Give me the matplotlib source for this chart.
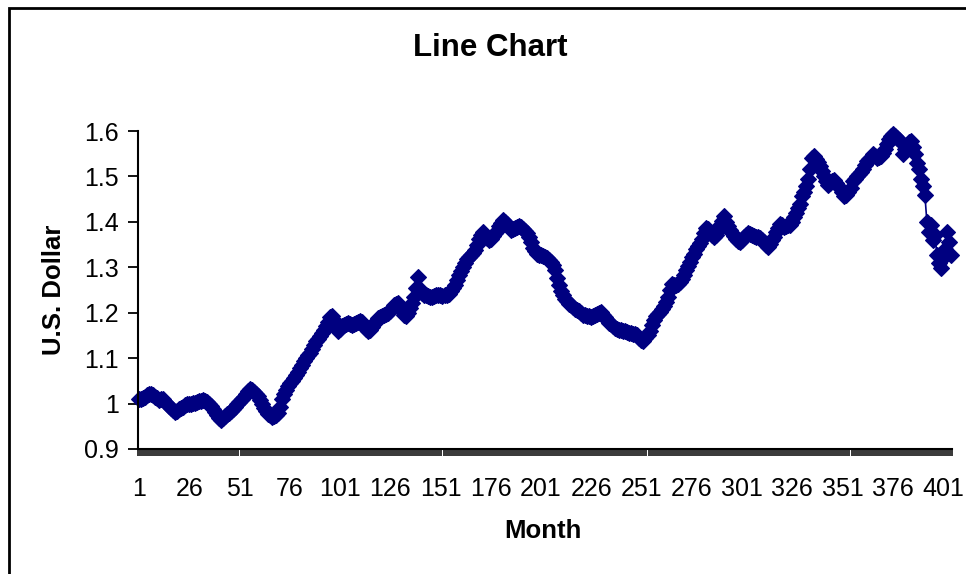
import numpy as np
import matplotlib.pyplot as plt
from matplotlib.patches import Rectangle

plt.rcParams['font.family'] = ['Liberation Sans', 'DejaVu Sans']

# valores mensuales (U.S. Dollar)
valores = [
    1.010, 1.010, 1.012, 1.015, 1.018, 1.020, 1.022, 1.018, 1.015, 1.012, 1.008, 1.010,
    1.009, 1.004, 1.000, 0.995, 0.990, 0.986, 0.982, 0.984, 0.987, 0.990, 0.993, 0.996,
    0.998, 0.999, 1.000, 1.001, 1.002, 1.004, 1.006, 1.005, 1.007, 1.006, 1.003, 1.000,
    0.995, 0.989, 0.982, 0.974, 0.968, 0.964, 0.968, 0.972, 0.976, 0.980, 0.983, 0.988,
    0.993, 0.998, 1.004, 1.009, 1.015, 1.022, 1.028, 1.033, 1.030, 1.026, 1.022, 1.016,
    1.008, 0.999, 0.990, 0.984, 0.978, 0.974, 0.971, 0.972, 0.975, 0.980, 0.992, 1.011,
    1.020, 1.030, 1.038, 1.045, 1.050, 1.056, 1.062, 1.070, 1.078, 1.086, 1.094, 1.100,
    1.106, 1.112, 1.120, 1.130, 1.138, 1.142, 1.148, 1.155, 1.162, 1.170, 1.180, 1.190,
    1.193, 1.185, 1.170, 1.160, 1.165, 1.170, 1.172, 1.176, 1.178, 1.176, 1.173, 1.175,
    1.178, 1.180, 1.182, 1.180, 1.172, 1.165, 1.160, 1.163, 1.168, 1.175, 1.182, 1.188,
    1.190, 1.193, 1.196, 1.197, 1.200, 1.204, 1.210, 1.216, 1.220, 1.222, 1.212, 1.204,
    1.196, 1.193, 1.200, 1.210, 1.222, 1.235, 1.255, 1.278, 1.253, 1.244, 1.240, 1.238,
    1.236, 1.234, 1.235, 1.236, 1.238, 1.240, 1.238, 1.236, 1.238, 1.240, 1.242, 1.248,
    1.255, 1.262, 1.272, 1.282, 1.292, 1.300, 1.310, 1.318, 1.322, 1.326, 1.332, 1.338,
    1.350, 1.362, 1.372, 1.378, 1.372, 1.365, 1.360, 1.362, 1.368, 1.375, 1.380, 1.390,
    1.398, 1.404, 1.400, 1.395, 1.388, 1.382, 1.384, 1.386, 1.388, 1.390, 1.389, 1.385,
    1.380, 1.375, 1.367, 1.355, 1.342, 1.335, 1.330, 1.328, 1.327, 1.325, 1.322, 1.320,
    1.316, 1.311, 1.305, 1.295, 1.276, 1.262, 1.248, 1.238, 1.230, 1.225, 1.220, 1.216,
    1.212, 1.208, 1.206, 1.204, 1.200, 1.196, 1.194, 1.193, 1.192, 1.190, 1.192, 1.195,
    1.198, 1.200, 1.202, 1.196, 1.190, 1.184, 1.178, 1.175, 1.170, 1.167, 1.165, 1.163,
    1.162, 1.160, 1.160, 1.158, 1.156, 1.155, 1.154, 1.153, 1.150, 1.145, 1.140, 1.138,
    1.144, 1.150, 1.160, 1.172, 1.185, 1.193, 1.198, 1.202, 1.208, 1.215, 1.223, 1.235,
    1.250, 1.264, 1.262, 1.260, 1.264, 1.267, 1.275, 1.284, 1.293, 1.302, 1.312, 1.322,
    1.330, 1.340, 1.346, 1.353, 1.362, 1.375, 1.387, 1.384, 1.378, 1.372, 1.367, 1.372,
    1.380, 1.392, 1.402, 1.412, 1.400, 1.390, 1.382, 1.375, 1.368, 1.362, 1.358, 1.356,
    1.360, 1.366, 1.372, 1.376, 1.374, 1.370, 1.368, 1.367, 1.367, 1.364, 1.360, 1.355,
    1.350, 1.345, 1.352, 1.360, 1.367, 1.378, 1.386, 1.395, 1.392, 1.388, 1.390, 1.392,
    1.393, 1.400, 1.410, 1.420, 1.430, 1.440, 1.456, 1.466, 1.478, 1.495, 1.516, 1.540,
    1.545, 1.538, 1.531, 1.522, 1.512, 1.500, 1.490, 1.482, 1.486, 1.490, 1.493, 1.486,
    1.480, 1.475, 1.465, 1.456, 1.460, 1.465, 1.475, 1.490, 1.495, 1.500, 1.505, 1.510,
    1.516, 1.525, 1.534, 1.538, 1.540, 1.549, 1.546, 1.540, 1.542, 1.545, 1.552, 1.560,
    1.572, 1.582, 1.588, 1.593, 1.590, 1.585, 1.580, 1.575, 1.549, 1.560, 1.570, 1.575,
    1.578, 1.565, 1.549, 1.530, 1.516, 1.495, 1.478, 1.460, 1.400, 1.378, 1.393, 1.360,
    1.372, 1.327, 1.310, 1.298, 1.320, 1.340, 1.378, 1.356, 1.327,
]
meses = np.arange(1, len(valores) + 1)
etiquetas_x = list(range(1, 402, 25))
ticks_y = [0.9, 1.0, 1.1, 1.2, 1.3, 1.4, 1.5, 1.6]
etiquetas_y = ['0.9', '1', '1.1', '1.2', '1.3', '1.4', '1.5', '1.6']

fig = plt.figure(figsize=(9.66, 5.74), dpi=100, facecolor='white')
ax = fig.add_axes([138 / 966, 1 - 449 / 574, (952 - 138) / 966, (449 - 131) / 574])

ax.plot(meses, valores, color='#000080', linewidth=1.2, marker='D',
        markersize=7.8, markeredgewidth=0.8, markerfacecolor='#000080',
        markeredgecolor='#000080', clip_on=False)

ax.set_xlim(0.5, len(valores) + 0.5)
ax.set_ylim(0.9, 1.6)

# marcas entre categorias, etiquetas en el centro
ax.set_xticks(etiquetas_x)
ax.set_xticklabels([str(m) for m in etiquetas_x])
ax.set_xticks(np.arange(0.5, len(valores) + 1, 1), minor=True)
ax.tick_params(axis='x', which='major', length=0, pad=20, labelsize=18)
ax.tick_params(axis='x', which='minor', length=5, width=1.1, color='black', direction='out')

ax.set_yticks(ticks_y)
ax.set_yticklabels(etiquetas_y)
ax.tick_params(axis='y', length=7, width=1.3, pad=7, labelsize=18, direction='out')

for lado in ['top', 'right']:
    ax.spines[lado].set_visible(False)
for lado in ['left', 'bottom']:
    ax.spines[lado].set_linewidth(1.5)
    ax.spines[lado].set_color('black')

ax.set_xlabel('Month', fontsize=18.5, fontweight='bold')
ax.xaxis.set_label_coords(0.5 + (543 - 545) / 814, (449 - 519) / 318)
ax.set_ylabel('U.S. Dollar', fontsize=18.5, fontweight='bold', labelpad=13)
fig.text(490 / 966, 1 - 48 / 574, 'Line Chart', fontsize=22.5, fontweight='bold',
         ha='center', va='center')

# borde del area del grafico
borde = Rectangle((9 / 966, -0.2), 1.2, 1.2 + (1 - 8 / 574) - 1, transform=fig.transFigure,
                  fill=False, edgecolor='black', linewidth=2, clip_on=False)
fig.patches.append(borde)

fig.savefig('out.png', dpi=100)
